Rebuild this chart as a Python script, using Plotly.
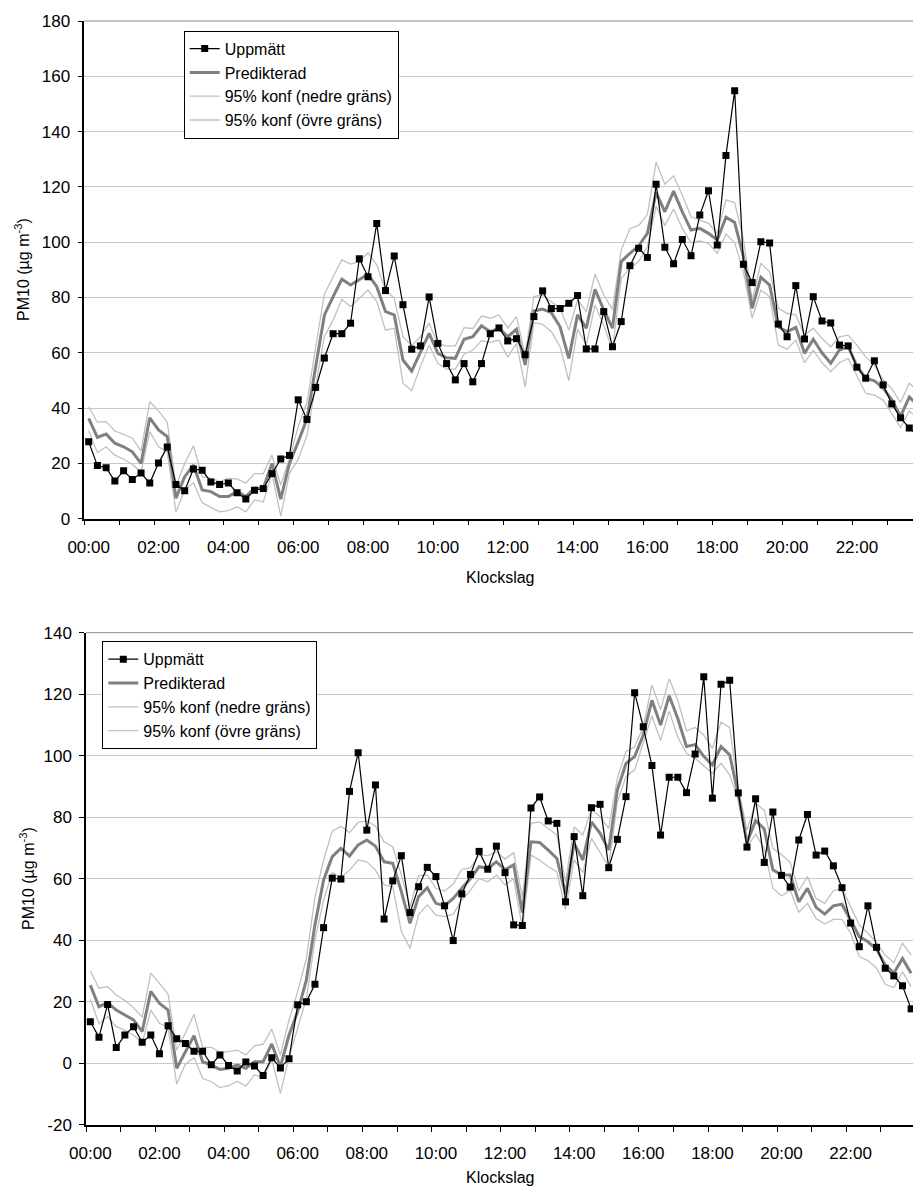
import plotly.graph_objects as go

# ---------------- data ----------------
times = [f"{h:02d}:{m:02d}" for h in range(24) for m in (0, 15, 30, 45)]
tick_labels = ["00:00", "02:00", "04:00", "06:00", "08:00", "10:00",
               "12:00", "14:00", "16:00", "18:00", "20:00", "22:00"]
top_yticks = [0, 20, 40, 60, 80, 100, 120, 140, 160, 180]
bot_yticks = [-20, 0, 20, 40, 60, 80, 100, 120, 140]

top_measured = [27.8, 19.2, 18.4, 13.6, 17.3, 14.2, 16.5, 12.9, 20.1, 25.9, 12.4, 10.1,
                18.0, 17.5, 13.3, 12.4, 12.9, 9.4, 7.1, 10.3, 10.9, 16.3, 21.6, 22.9,
                43.0, 35.9, 47.5, 58.1, 66.9, 66.9, 70.7, 94.0, 87.5, 106.8, 82.5, 95.0,
                77.4, 61.3, 62.5, 80.2, 63.4, 56.1, 50.2, 56.1, 49.5, 56.1, 66.9, 69.0,
                64.3, 65.1, 59.3, 73.1, 82.4, 76.0, 76.0, 77.9, 80.7, 61.4, 61.4, 74.9,
                62.2, 71.3, 91.5, 97.8, 94.5, 121.0, 98.2, 92.2, 101.0, 95.1, 109.8, 118.6,
                99.0, 131.4, 154.8, 92.0, 85.4, 100.2, 99.7, 70.4, 65.8, 84.3, 65.0, 80.3,
                71.5, 70.8, 62.8, 62.5, 54.8, 50.8, 57.1, 48.4, 41.5, 36.5, 32.8, 30.0]
top_predicted = [36.3, 29.4, 30.6, 27.3, 26.0, 24.2, 20.0, 36.5, 32.1, 29.7, 7.4, 15.2,
                 19.4, 10.4, 9.8, 8.0, 8.0, 9.8, 8.0, 11.0, 11.0, 20.0, 7.1, 20.0,
                 27.8, 36.0, 55.0, 73.6, 80.3, 86.6, 84.5, 86.3, 88.4, 83.9, 74.9, 73.7,
                 57.4, 53.4, 60.4, 67.0, 59.8, 58.2, 58.0, 64.9, 65.8, 69.8, 67.6, 69.0,
                 65.8, 68.5, 55.6, 75.1, 75.8, 74.5, 69.4, 58.0, 73.7, 68.9, 83.0, 75.5,
                 68.9, 93.0, 96.0, 98.7, 103.2, 118.0, 111.0, 118.5, 111.0, 104.4, 105.0, 103.2,
                 100.8, 109.0, 107.1, 94.8, 76.1, 87.3, 84.5, 69.4, 67.6, 69.2, 59.8, 64.9,
                 60.0, 56.2, 61.0, 62.2, 55.2, 50.8, 49.9, 47.2, 43.0, 37.0, 44.0, 41.0]
top_lower = [31.8, 23.9, 26.0, 23.0, 21.5, 19.7, 16.8, 31.5, 26.0, 24.2, 2.5, 10.4,
             13.0, 5.8, 4.1, 2.5, 2.9, 4.3, 2.5, 6.8, 6.1, 16.2, 1.0, 16.4,
             21.5, 30.0, 48.0, 65.8, 71.9, 79.3, 76.7, 79.7, 82.7, 78.5, 68.2, 68.9,
             49.0, 46.3, 55.0, 62.8, 56.2, 54.1, 54.1, 59.5, 61.0, 64.4, 63.8, 64.6,
             58.4, 63.4, 47.7, 70.9, 70.3, 67.6, 62.2, 49.9, 68.6, 62.8, 77.3, 70.0,
             61.0, 86.9, 90.6, 93.0, 98.4, 113.0, 106.0, 112.0, 105.0, 99.8, 100.5, 99.6,
             96.0, 103.0, 99.8, 89.3, 72.5, 82.7, 80.3, 62.8, 61.3, 64.6, 56.4, 61.0,
             56.4, 53.2, 56.4, 58.0, 51.4, 45.4, 44.7, 42.9, 38.0, 33.0, 39.0, 36.0]
top_upper = [40.5, 34.9, 35.1, 31.7, 30.5, 29.1, 24.5, 42.3, 39.0, 34.9, 11.8, 20.0,
             26.4, 15.2, 14.6, 13.4, 14.6, 14.4, 12.8, 16.3, 16.3, 23.0, 12.2, 21.8,
             33.3, 42.0, 62.0, 81.2, 87.5, 93.6, 92.1, 93.0, 96.2, 91.8, 82.7, 79.7,
             65.8, 62.6, 65.8, 70.7, 63.1, 62.5, 62.5, 69.1, 68.8, 73.3, 72.5, 73.7,
             68.9, 73.1, 59.2, 80.3, 80.9, 78.5, 76.1, 68.2, 79.1, 74.9, 88.5, 80.9,
             75.7, 97.2, 104.9, 106.1, 110.0, 129.0, 121.0, 124.0, 117.0, 109.2, 108.0, 106.8,
             103.2, 115.3, 114.3, 101.0, 79.1, 92.4, 89.3, 76.1, 74.3, 73.7, 66.4, 68.9,
             65.2, 62.2, 65.8, 66.4, 62.8, 58.6, 55.6, 50.2, 47.0, 42.0, 49.0, 46.0]

bot_measured = [13.5, 8.5, 19.1, 5.1, 9.2, 11.9, 6.8, 9.2, 3.1, 12.2, 8.0, 6.4,
                3.9, 3.9, -0.5, 2.7, -0.7, -2.5, 0.4, -0.9, -4.0, 1.8, -1.5, 1.5,
                19.0, 20.0, 25.7, 44.1, 60.2, 59.9, 88.4, 101.0, 75.8, 90.5, 46.9, 59.3,
                67.5, 49.0, 57.4, 63.7, 60.7, 51.2, 39.9, 55.1, 61.4, 68.9, 63.1, 70.6,
                62.0, 45.0, 44.8, 83.0, 86.6, 78.8, 78.0, 52.5, 73.7, 54.5, 83.1, 84.2,
                63.6, 72.8, 86.7, 120.5, 109.4, 96.8, 74.2, 93.0, 93.0, 88.0, 100.6, 125.7,
                86.2, 123.2, 124.5, 87.9, 70.3, 86.0, 65.3, 81.7, 61.1, 57.3, 72.6, 80.9,
                67.7, 69.0, 64.2, 57.1, 45.6, 37.9, 51.2, 37.7, 30.9, 28.4, 25.2, 17.7]
bot_predicted = [25.4, 18.4, 19.7, 17.3, 15.7, 14.1, 10.3, 23.4, 19.5, 17.3, -1.6, 3.8,
                 9.0, 0.5, -0.6, -2.0, -1.6, -0.6, -1.6, 0.5, 0.5, 6.3, -1.1, 9.2,
                 16.8, 27.0, 45.0, 59.6, 67.2, 69.9, 67.4, 71.0, 72.6, 70.6, 65.5, 65.0,
                 55.8, 45.5, 54.2, 57.1, 52.0, 51.2, 53.6, 56.9, 60.1, 63.9, 63.4, 65.5,
                 63.0, 64.5, 49.0, 72.0, 71.8, 69.3, 66.6, 55.0, 71.5, 66.1, 78.5, 74.8,
                 69.3, 88.9, 97.5, 99.7, 106.7, 118.0, 110.0, 119.5, 112.0, 103.0, 103.6, 99.8,
                 97.0, 103.0, 100.3, 87.3, 71.8, 78.9, 76.2, 62.9, 61.2, 61.2, 52.5, 56.9,
                 50.7, 48.5, 51.2, 51.7, 46.6, 41.2, 39.5, 37.1, 32.0, 29.3, 34.1, 29.3]
bot_lower = [20.8, 12.8, 15.2, 11.9, 10.8, 9.2, 6.5, 17.3, 13.0, 11.7, -6.7, -0.3,
             1.8, -4.9, -6.0, -7.9, -7.3, -5.8, -7.4, -3.8, -4.6, 1.1, -9.8, 2.1,
             11.4, 21.0, 40.0, 53.1, 62.0, 60.5, 62.8, 66.1, 65.5, 62.8, 58.0, 57.4,
             42.8, 37.4, 48.4, 51.5, 48.2, 47.7, 48.5, 53.1, 56.3, 60.1, 59.0, 61.2,
             58.0, 60.0, 44.0, 67.7, 66.1, 63.9, 62.3, 50.0, 66.1, 62.0, 73.1, 68.3,
             63.9, 85.0, 93.2, 95.4, 104.0, 113.0, 105.0, 114.5, 106.0, 100.8, 99.2, 96.7,
             94.3, 97.5, 93.7, 85.8, 70.4, 74.5, 69.9, 56.9, 54.4, 56.3, 49.1, 52.0,
             47.1, 45.3, 46.8, 46.8, 42.3, 34.7, 33.4, 30.9, 25.7, 24.6, 29.8, 24.9]
bot_upper = [30.0, 24.4, 24.9, 22.2, 20.4, 18.1, 15.0, 29.3, 26.0, 22.5, 4.3, 9.8,
             15.9, 5.2, 5.2, 3.6, 3.8, 4.3, 2.7, 5.7, 6.2, 11.1, 2.7, 14.1,
             23.3, 34.0, 54.0, 66.1, 75.5, 77.1, 75.0, 78.3, 78.8, 77.2, 72.0, 70.4,
             61.2, 50.9, 61.0, 61.2, 56.9, 56.0, 58.3, 63.1, 63.6, 67.7, 67.5, 68.8,
             66.4, 68.5, 54.0, 78.0, 78.5, 76.4, 74.2, 59.0, 76.9, 74.2, 82.6, 80.2,
             76.4, 92.7, 101.3, 102.9, 109.4, 123.0, 115.0, 125.0, 118.0, 108.1, 109.2, 106.7,
             102.4, 110.9, 109.2, 89.4, 75.8, 84.5, 82.3, 69.9, 67.9, 65.3, 56.1, 60.7,
             53.6, 52.0, 56.1, 56.9, 50.9, 45.0, 42.3, 39.2, 35.2, 32.7, 39.0, 35.2]

names = ["Uppmätt", "Predikterad", "95% konf (nedre gräns)", "95% konf (övre gräns)"]

# ---------------- figure ----------------
W, H = 913, 1187
FONT = "Liberation Sans, Arial, sans-serif"
x = list(range(len(times)))
tick_pos = [times.index(t) for t in tick_labels]

fig = go.Figure()


def add_panel(meas, pred, low, up, xa, ya, leg):
    common = dict(x=x, xaxis=xa, yaxis=ya, legend=leg, customdata=times,
                  hovertemplate="%{customdata}: %{y}<extra></extra>")
    fig.add_trace(go.Scatter(y=low, name=names[2], mode="lines", legendrank=3,
                             line=dict(color="#c0c0c0", width=1.3), **common))
    fig.add_trace(go.Scatter(y=up, name=names[3], mode="lines", legendrank=4,
                             line=dict(color="#c0c0c0", width=1.3), **common))
    fig.add_trace(go.Scatter(y=pred, name=names[1], mode="lines", legendrank=2,
                             line=dict(color="#808080", width=3), **common))
    fig.add_trace(go.Scatter(y=meas, name=names[0], mode="lines+markers", legendrank=1,
                             line=dict(color="black", width=1.2),
                             marker=dict(symbol="square", size=7, color="black"),
                             **common))


add_panel(top_measured, top_predicted, top_lower, top_upper, "x", "y", "legend")
add_panel(bot_measured, bot_predicted, bot_lower, bot_upper, "x2", "y2", "legend2")

# pixel geometry of the two plot areas
top_left, top_step = 84.3, 8.73
bot_left, bot_step = 86.0, 8.64
top_y180, top_y0 = 21.0, 518.7
bot_y140, bot_ym20 = 632.7, 1124.8


def xaxis_cfg(left, step, anchor):
    return dict(
        anchor=anchor,
        domain=[left / W, 1.0],
        range=[-0.5, -0.5 + (W - left) / step],
        tickmode="array", tickvals=tick_pos, ticktext=tick_labels,
        ticks="", showgrid=False, zeroline=False,
        showline=True, linecolor="black", linewidth=1.5,
        tickfont=dict(family=FONT, size=17, color="black"),
        ticklabelstandoff=12,
        minor=dict(tickmode="linear", tick0=-0.5, dtick=4, ticks="outside",
                   ticklen=5, tickcolor="black", tickwidth=1, showgrid=False),
        automargin=False, fixedrange=True,
    )


def yaxis_cfg(ytop_px, ybot_px, rng, vals, anchor):
    return dict(
        anchor=anchor,
        domain=[(H - ybot_px) / H, (H - ytop_px) / H],
        range=rng, tickmode="array", tickvals=vals,
        ticktext=[str(v) for v in vals],
        ticks="outside", ticklen=5, tickcolor="black", tickwidth=1,
        showgrid=True, gridcolor="#c8c8c8", gridwidth=1, zeroline=False,
        showline=True, linecolor="black", linewidth=1.5,
        tickfont=dict(family=FONT, size=17, color="black"),
        ticklabelstandoff=4,
        automargin=False, fixedrange=True,
    )


legend_common = dict(
    xanchor="left", yanchor="top", bgcolor="white", bordercolor="black",
    borderwidth=1, font=dict(family=FONT, size=16, color="black"),
    itemwidth=30, traceorder="normal", tracegroupgap=0,
)

fig.update_layout(
    width=W, height=H,
    margin=dict(l=0, r=0, t=0, b=0, pad=0),
    paper_bgcolor="white", plot_bgcolor="white",
    font=dict(family=FONT, size=16, color="black"),
    showlegend=True,
    xaxis=xaxis_cfg(top_left, top_step, "y"),
    yaxis=yaxis_cfg(top_y180, top_y0, [0, 180], top_yticks, "x"),
    xaxis2=xaxis_cfg(bot_left, bot_step, "y2"),
    yaxis2=yaxis_cfg(bot_y140, bot_ym20, [-20, 140], bot_yticks, "x2"),
    legend=dict(x=183.7 / W, y=1 - 30.7 / H, **legend_common),
    legend2=dict(x=102.3 / W, y=1 - 641.3 / H, **legend_common),
    shapes=[
        dict(type="line", xref="x domain", yref="y domain", x0=0, x1=1, y0=1, y1=1,
             line=dict(color="#8c8c8c", width=1)),
        dict(type="line", xref="x2 domain", yref="y2 domain", x0=0, x1=1, y0=1, y1=1,
             line=dict(color="#8c8c8c", width=1)),
    ],
    annotations=[
        dict(text="PM10 (µg m<sup>-3</sup>)", textangle=-90, xref="paper", yref="paper",
             x=22 / W, y=1 - 270 / H, showarrow=False, xanchor="center", yanchor="middle",
             font=dict(family=FONT, size=16)),
        dict(text="PM10 (µg m<sup>-3</sup>)", textangle=-90, xref="paper", yref="paper",
             x=27 / W, y=1 - 879 / H, showarrow=False, xanchor="center", yanchor="middle",
             font=dict(family=FONT, size=16)),
        dict(text="Klockslag", xref="paper", yref="paper",
             x=500 / W, y=1 - 578 / H, showarrow=False, xanchor="center", yanchor="middle",
             font=dict(family=FONT, size=16)),
        dict(text="Klockslag", xref="paper", yref="paper",
             x=500 / W, y=1 - 1177 / H, showarrow=False, xanchor="center", yanchor="middle",
             font=dict(family=FONT, size=16)),
    ],
)

fig.write_html("out.html")
